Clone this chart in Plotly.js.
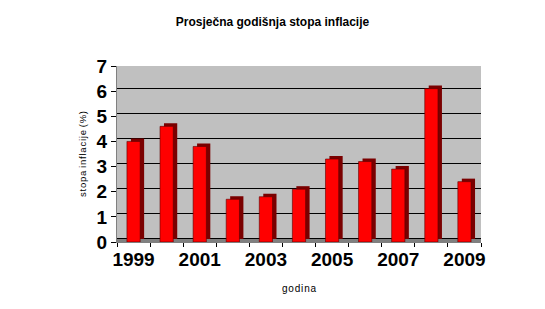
<!DOCTYPE html>
<html>
<head>
<meta charset="utf-8">
<script src="https://cdn.plot.ly/plotly-3.0.1.min.js"></script>
<style>html,body{margin:0;padding:0;background:#fff;}</style>
</head>
<body>
<div id="chart" style="width:545px;height:309px;"></div>
<script>
const years = [1999, 2000, 2001, 2002, 2003, 2004, 2005, 2006, 2007, 2008, 2009];
const inflation = [4.0, 4.6, 3.8, 1.7, 1.8, 2.1, 3.3, 3.2, 2.9, 6.1, 2.4];
const xTickVals = [1999, 2001, 2003, 2005, 2007, 2009];
const xTickText = ['1999', '2001', '2003', '2005', '2007', '2009'];
const yTickVals = [0, 1, 2, 3, 4, 5, 6, 7];

const H = '\u200A';
const yTitle = ['stopa', 'inflacije', '(%)'].map(w => w.split('').join(H)).join(' ');
const xTitle = 'godina'.split('').join(H);

const dx = 0.12, dy = 0.12;
const FONT = 'Arial, Liberation Sans, sans-serif';
const traces = [
  // back plane (shifted) - dark side/top of the 3D columns
  { type: 'bar', x: years, y: inflation, xaxis: 'x', yaxis: 'y',
    marker: { color: '#7a0000', line: { width: 0 } }, hoverinfo: 'skip', showlegend: false },
  // front plane - red front face
  { type: 'bar', x: years, y: inflation, xaxis: 'x2', yaxis: 'y2',
    marker: { color: '#ff0000', line: { color: '#5a0000', width: 0.6 } }, showlegend: false }
];

const layout = {
  width: 545, height: 309,
  margin: { l: 117, r: 64, t: 66, b: 67 },
  paper_bgcolor: '#ffffff',
  plot_bgcolor: '#c0c0c0',
  barmode: 'overlay',
  bargap: 0.6,
  title: { text: 'Prosječna godišnja stopa inflacije', x: 0.5, xanchor: 'center', y: 0.93, yanchor: 'middle',
           font: { family: FONT, size: 12, color: '#000', weight: 'bold' } },
  xaxis: { range: [1998.5 - dx, 2009.5 - dx], showticklabels: false, ticks: '', showgrid: false,
           zeroline: false, showline: false, fixedrange: true },
  yaxis: { range: [-dy, 7 - dy], tickvals: yTickVals, showticklabels: false, ticks: '',
           showgrid: true, gridcolor: '#000', gridwidth: 1, zeroline: false, showline: false, fixedrange: true },
  xaxis2: {
    overlaying: 'x', side: 'bottom', anchor: 'y2',
    range: [1998.5, 2009.5], tickvals: xTickVals, ticktext: xTickText, ticks: '', ticklen: 0,
    showgrid: false, zeroline: false, showline: true, linecolor: '#808080', linewidth: 1,
    tickfont: { family: FONT, size: 19, color: '#000', weight: 'bold' },
    minor: { dtick: 1, tick0: 1998.5, ticks: 'outside', ticklen: 4, tickcolor: '#000', showgrid: false },
    title: { text: xTitle, standoff: 16, font: { family: FONT, size: 10, color: '#000' } },
    fixedrange: true
  },
  yaxis2: {
    overlaying: 'y', side: 'left', anchor: 'x2',
    range: [0, 7], tickvals: yTickVals, ticks: 'outside', ticklen: 5, tickcolor: '#000',
    showgrid: false, zeroline: false, showline: true, linecolor: '#808080', linewidth: 1,
    tickfont: { family: FONT, size: 19, color: '#000', weight: 'bold' },
    title: { text: yTitle, standoff: 8, font: { family: FONT, size: 9.5, color: '#000' } },
    fixedrange: true
  },
  shapes: [
    { type: 'rect', layer: 'below', xref: 'paper', yref: 'paper', x0: 0, x1: 1, y0: 0, y1: 0.018,
      fillcolor: '#808080', line: { width: 0 } }
  ]
};

Plotly.newPlot('chart', traces, layout, { displayModeBar: false, staticPlot: true });
</script>
</body>
</html>
